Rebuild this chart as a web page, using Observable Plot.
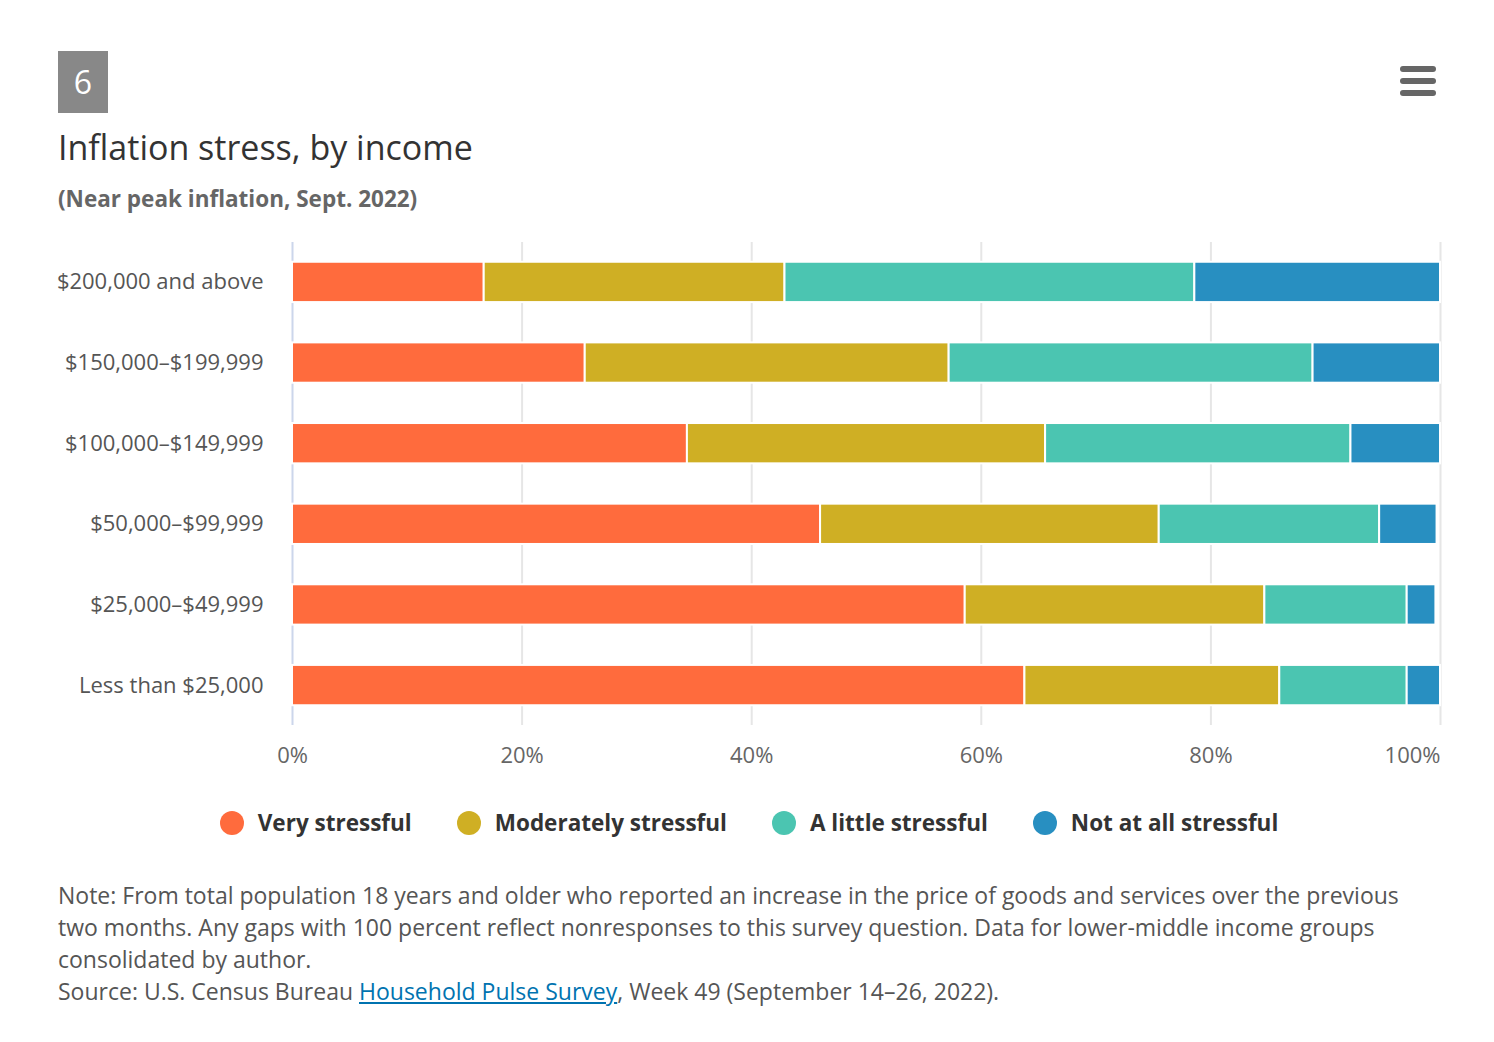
<!DOCTYPE html>
<html>
<head>
<meta charset="utf-8">
<script src="https://cdn.jsdelivr.net/npm/d3@7"></script>
<script src="https://cdn.jsdelivr.net/npm/@observablehq/plot@0.6"></script>
<style>
  html, body { margin: 0; padding: 0; background: #fff; }
  body { width: 1494px; height: 1042px; position: relative; font-family: "Open Sans", "Noto Sans", sans-serif; overflow: hidden; }
  .badge { position: absolute; left: 58px; top: 51px; width: 50px; height: 62px; background: #888; color: #fff; font-size: 32px; line-height: 62px; text-align: center; }
  .menu { position: absolute; left: 1400px; top: 66px; width: 36px; }
  .menu div { height: 6px; border-radius: 3px; background: #666; margin-bottom: 6px; }
  .title { position: absolute; left: 58px; top: 125px; font-size: 34px; color: #333; line-height: 44px; }
  .subtitle { position: absolute; left: 58px; top: 184px; font-size: 22.5px; font-weight: bold; color: #666; line-height: 30px; }
  #chart { position: absolute; left: 0; top: 230px; }
  .legend { position: absolute; left: 2px; width: 1494px; top: 808px; display: flex; justify-content: center; gap: 45px; font-size: 22.5px; font-weight: bold; color: #333; line-height: 30px; }
  .legend .item { display: flex; align-items: center; }
  .legend .dot { width: 24px; height: 24px; border-radius: 50%; margin-right: 14px; }
  .note { position: absolute; left: 58px; top: 879px; width: 1420px; font-size: 23px; line-height: 32px; color: #555; white-space: nowrap; }
  .note a { color: #0073b0; text-decoration: underline; }
</style>
</head>
<body>
<div class="badge">6</div>
<div class="menu"><div></div><div></div><div></div></div>
<div class="title">Inflation stress, by income</div>
<div class="subtitle">(Near peak inflation, Sept. 2022)</div>
<div id="chart"></div>
<div class="legend" id="legend"></div>
<div class="note">Note: From total population 18 years and older who reported an increase in the price of goods and services over the previous<br>two months. Any gaps with 100 percent reflect nonresponses to this survey question. Data for lower-middle income groups<br>consolidated by author.<br>Source: U.S. Census Bureau <a href="#">Household Pulse Survey</a>, Week 49 (September 14–26, 2022).</div>
<script>
const categories = ["$200,000 and above", "$150,000–$199,999", "$100,000–$149,999", "$50,000–$99,999", "$25,000–$49,999", "Less than $25,000"];
const seriesNames = ["Very stressful", "Moderately stressful", "A little stressful", "Not at all stressful"];
const colors = ["#FF6B3D", "#CFAF24", "#4BC5B1", "#288FC1"];
const veryStressful = [16.7, 25.5, 34.4, 46.0, 58.6, 63.8];
const moderatelyStressful = [26.2, 31.7, 31.2, 29.5, 26.1, 22.2];
const aLittleStressful = [35.7, 31.7, 26.6, 19.2, 12.4, 11.1];
const notAtAllStressful = [21.4, 11.1, 7.8, 5.0, 2.5, 2.9];
const xTicks = [0, 20, 40, 60, 80, 100];

const seriesValues = [veryStressful, moderatelyStressful, aLittleStressful, notAtAllStressful];
const data = [];
seriesNames.forEach((s, i) => {
  categories.forEach((c, j) => data.push({income: c, series: s, value: seriesValues[i][j]}));
});

const font = "'Open Sans', 'Noto Sans', sans-serif";
const chart = Plot.plot({
  width: 1494,
  height: 555,
  marginLeft: 292,
  marginRight: 54,
  marginTop: 12,
  marginBottom: 60,
  style: {fontFamily: font, fontSize: "22px", background: "white", overflow: "visible"},
  x: {domain: [0, 100], axis: null},
  y: {domain: categories, paddingInner: 0.5, paddingOuter: 0.245, round: false, label: null, axis: null},
  color: {domain: seriesNames, range: colors},
  marks: [
    Plot.ruleX(xTicks.filter(d => d > 0), {stroke: "#e6e6e6", strokeWidth: 2}),
    Plot.ruleX([0], {stroke: "#ccd6eb", strokeWidth: 2}),
    Plot.barX(data, {x: "value", y: "income", fill: "series", order: seriesNames, stroke: "white", strokeWidth: 2}),
    Plot.axisY({tickSize: 0, tickPadding: 29, fill: "#555", fontSize: 22, label: null}),
    Plot.text(xTicks.filter(d => d < 100), {x: d => d, frameAnchor: "bottom", dy: 37, text: d => d + "%", fill: "#666", fontSize: 22}),
    Plot.text([100], {x: d => d, frameAnchor: "bottom", dy: 37, text: d => d + "%", fill: "#666", fontSize: 22, textAnchor: "end"})
  ]
});
document.getElementById("chart").appendChild(chart);

const legend = document.getElementById("legend");
seriesNames.forEach((s, i) => {
  const item = document.createElement("div");
  item.className = "item";
  const dot = document.createElement("span");
  dot.className = "dot";
  dot.style.background = colors[i];
  const label = document.createElement("span");
  label.textContent = s;
  item.appendChild(dot);
  item.appendChild(label);
  legend.appendChild(item);
});
</script>
</body>
</html>
